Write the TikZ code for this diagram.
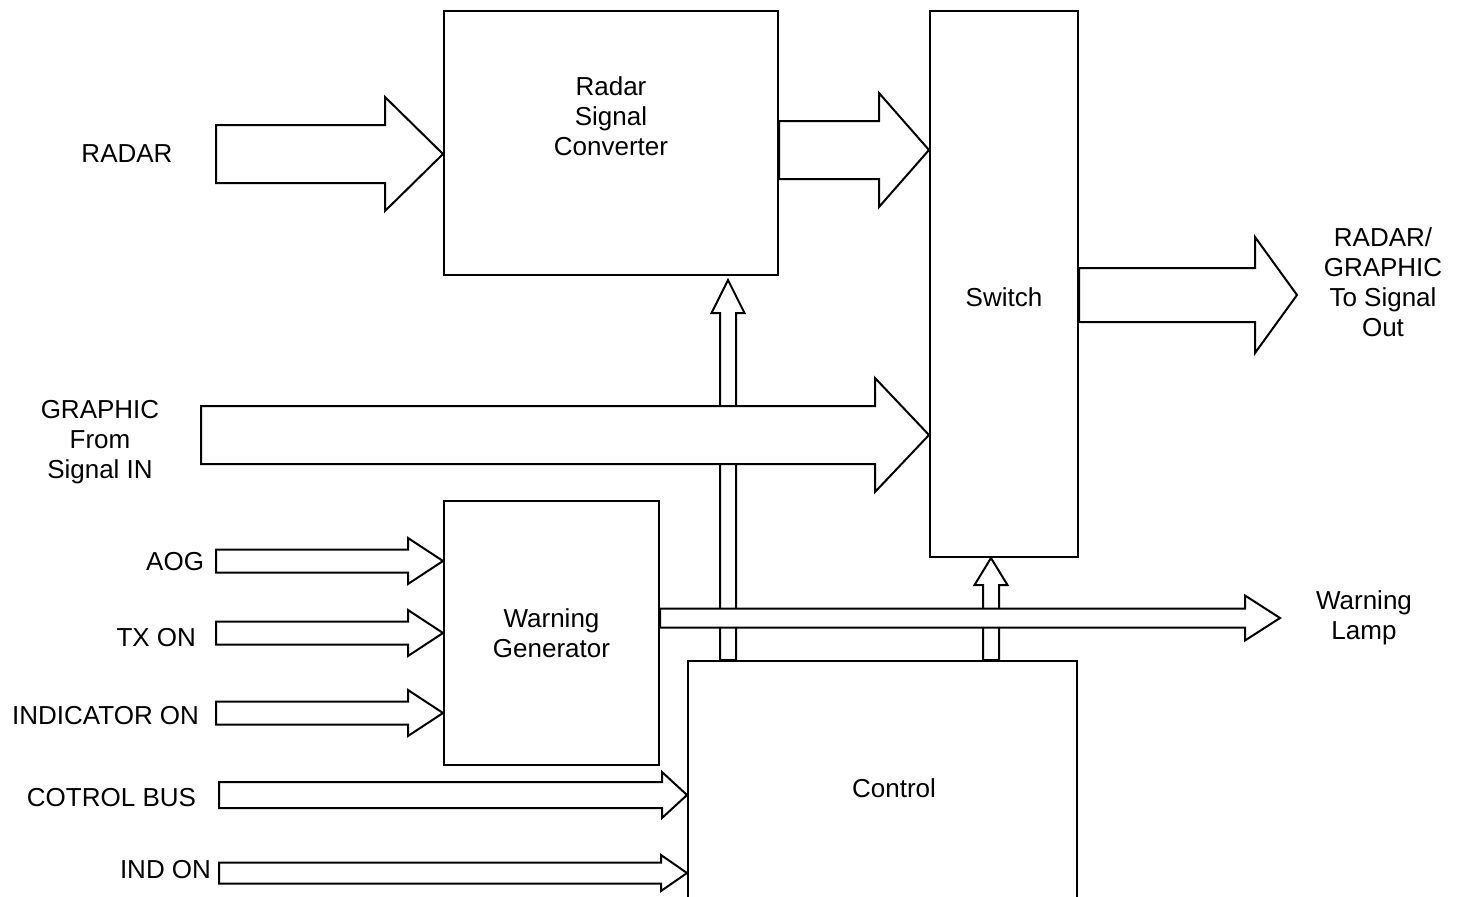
\documentclass[tikz,border=0pt]{standalone}
\usepackage{fontspec}
\setmainfont{Liberation Sans}
\usetikzlibrary{calc}

% outlined block arrow: tail, tip, shaft half width, head half width, head length
\newcommand{\bigarrow}[5]{%
  \coordinate (ba) at ($(#2)!#5!(#1)$);
  \filldraw[fill=white] ($(#1)!#3!90:(#2)$) -- ($(ba)!#3!90:(#2)$) -- ($(ba)!#4!90:(#2)$) -- (#2)
    -- ($(ba)!#4!-90:(#2)$) -- ($(ba)!#3!-90:(#2)$) -- ($(#1)!#3!-90:(#2)$) -- cycle;
}

\begin{document}
\begin{tikzpicture}[x=1pt, y=-1pt, line width=2pt,
    every node/.style={font=\fontsize{26}{30}\selectfont},
    box/.style={draw, rectangle, inner sep=0pt},
    inlabel/.style={anchor=east, inner sep=0pt}]
  \useasboundingbox (0,0) rectangle (1460,897);

  % Boxes
  \node[box, minimum width=334pt, minimum height=264pt] (conv) at (611,143) {};
  \node[box, minimum width=148pt, minimum height=546pt] (sw) at (1004,284) {};
  \node[box, minimum width=215pt, minimum height=264pt, align=center] (wg) at (551.5,633) {Warning\\Generator};
  \node[box, minimum width=389pt, minimum height=260pt] (ctrl) at (882.5,791) {};
  \node[align=center] (convtxt) at (611,116) {Radar\\Signal\\Converter};
  \node (swtxt) at (1004,297) {Switch};
  \node (ctrltxt) at (894,788) {Control};

  % Control -> converter / switch
  \coordinate (up1s) at (ctrl.north -| 728,0);
  \coordinate (up1e) at (728,280);
  \bigarrow{up1s}{up1e}{8pt}{16.5pt}{33pt}
  \coordinate (up2s) at (ctrl.north -| 991,0);
  \coordinate (up2e) at (sw.south -| 991,0);
  \bigarrow{up2s}{up2e}{8pt}{16.5pt}{27pt}

  % Radar in
  \node (radar) at (127,154) {RADAR};
  \coordinate (radars) at (216,154);
  \coordinate (radare) at (radars -| conv.west);
  \bigarrow{radars}{radare}{29pt}{57pt}{58pt}

  % Converter -> switch
  \coordinate (c2ss) at (conv.east |- 0,150);
  \coordinate (c2se) at (sw.west |- 0,150);
  \bigarrow{c2ss}{c2se}{29pt}{57pt}{50pt}

  % Signal out
  \node[align=center] (outtxt) at (1383,282) {RADAR/\\GRAPHIC\\To Signal\\Out};
  \coordinate (outs) at (sw.east |- 0,295);
  \coordinate (oute) at (1297,295);
  \bigarrow{outs}{oute}{27pt}{58pt}{42pt}

  % Graphic in
  \node[align=center] (graphic) at (100,442) {GRAPHIC\\From\\Signal IN};
  \coordinate (grs) at (201,435);
  \coordinate (gre) at (sw.west |- 0,435);
  \bigarrow{grs}{gre}{29pt}{57pt}{54pt}

  % Warning inputs
  \node[inlabel] (aog) at (205,562) {AOG};
  \node[inlabel] (txon) at (197,638) {TX ON};
  \node[inlabel] (indicator) at (200,715.5) {INDICATOR ON};
  \foreach \yy/\nm in {561/aog, 633/tx, 713/ind} {
    \coordinate (\nm s) at (216,\yy);
    \coordinate (\nm e) at (wg.west |- 0,\yy);
    \bigarrow{\nm s}{\nm e}{11.5pt}{23pt}{35pt}
  }

  % Warning lamp
  \node[align=center] (lamp) at (1364,618) {Warning\\Lamp};
  \coordinate (warns) at (wg.east |- 0,618);
  \coordinate (warne) at (1280,618);
  \bigarrow{warns}{warne}{9.5pt}{22.5pt}{35pt}

  % Control inputs
  \node[inlabel] (bus) at (197,798) {COTROL BUS};
  \coordinate (buss) at (219,795);
  \coordinate (buse) at (ctrl.west |- 0,795);
  \bigarrow{buss}{buse}{13pt}{23pt}{25pt}
  \node[inlabel] (indon) at (212,870) {IND ON};
  \coordinate (indons) at (219,873);
  \coordinate (indone) at (ctrl.west |- 0,873);
  \bigarrow{indons}{indone}{10.5pt}{18pt}{26pt}
\end{tikzpicture}
\end{document}
